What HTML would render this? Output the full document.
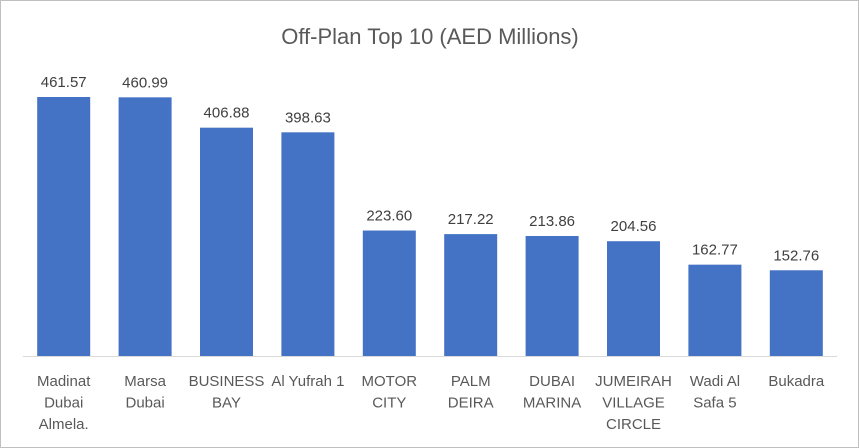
<!DOCTYPE html>
<html><head><meta charset="utf-8"><style>
body{margin:0;background:#fff}
svg{display:block;font-family:"Liberation Sans",sans-serif}
</style></head><body>
<svg id="c" width="859" height="448">
<rect x="0.5" y="0.5" width="858" height="447" fill="#fff" stroke="#bfbfbf"/>
<text x="430" y="44" text-anchor="middle" font-size="22" fill="#595959">Off-Plan Top 10 (AED Millions)</text>
<line x1="23" y1="356.5" x2="837" y2="356.5" stroke="#d9d9d9"/>
<g id="bars"></g>
</svg>
<script>
const categories=[["Madinat","Dubai","Almela."],["Marsa","Dubai"],["BUSINESS","BAY"],["Al Yufrah 1"],["MOTOR","CITY"],["PALM","DEIRA"],["DUBAI","MARINA"],["JUMEIRAH","VILLAGE","CIRCLE"],["Wadi Al","Safa 5"],["Bukadra"]];
const values=[461.57,460.99,406.88,398.63,223.60,217.22,213.86,204.56,162.77,152.76];
const labels=["461.57","460.99","406.88","398.63","223.60","217.22","213.86","204.56","162.77","152.76"];
const ns="http://www.w3.org/2000/svg";
const g=document.getElementById('bars');
const x0=23,x1=837,base=356,scale=259/461.57,bw=53;
const step=(x1-x0)/values.length;
const xc=i=>x0+step*(i+0.5);
const y=v=>base-v*scale;
values.forEach((v,i)=>{
 const r=document.createElementNS(ns,'rect');
 r.setAttribute('x',xc(i)-bw/2);r.setAttribute('y',y(v));
 r.setAttribute('width',bw);r.setAttribute('height',base-y(v));
 r.setAttribute('fill','#4472c4');
 
 
 g.appendChild(r);
 const t=document.createElementNS(ns,'text');
 t.setAttribute('x',xc(i));t.setAttribute('y',y(v)-10);
 t.setAttribute('text-anchor','middle');t.setAttribute('font-size','15');t.setAttribute('fill','#404040');
 t.textContent=labels[i];
 
 
 g.appendChild(t);
 categories[i].forEach((line,j)=>{
  const c=document.createElementNS(ns,'text');
  c.setAttribute('x',xc(i));c.setAttribute('y',386+j*21.5);
  c.setAttribute('text-anchor','middle');c.setAttribute('font-size','15');c.setAttribute('fill','#595959');
  c.textContent=line;
  
  
  g.appendChild(c);
 });
});
</script>
</body></html>
